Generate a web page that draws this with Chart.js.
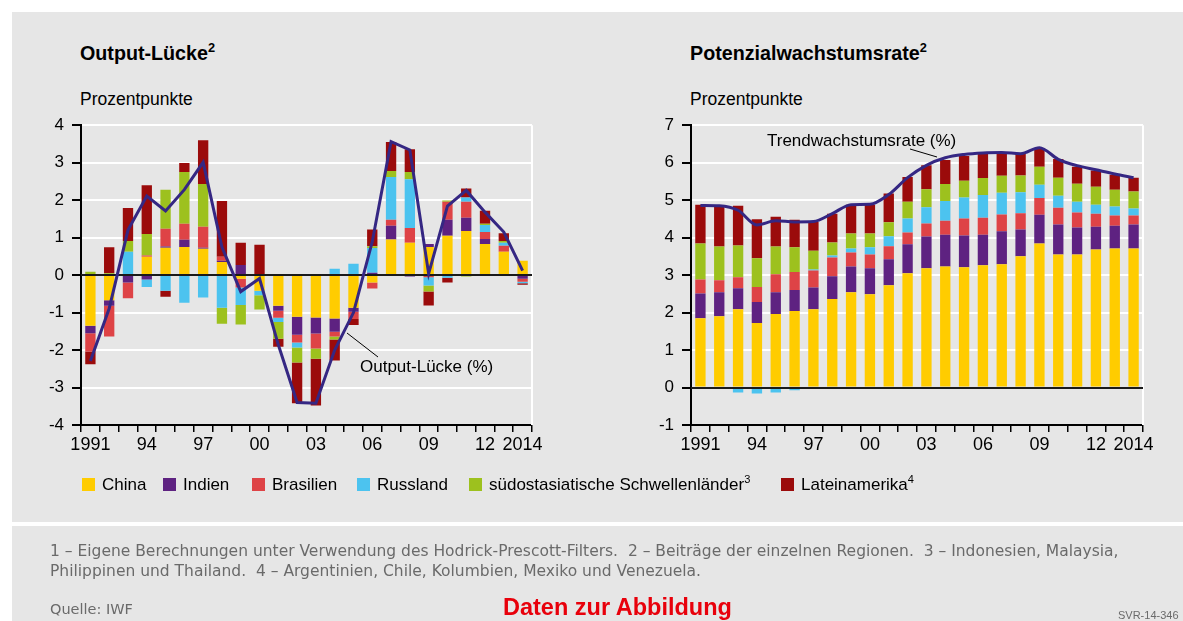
<!DOCTYPE html>
<html lang="de">
<head>
<meta charset="utf-8">
<title>Output-Lücke und Potenzialwachstumsrate</title>
<script src="https://cdn.jsdelivr.net/npm/chart.js@4.4.1/dist/chart.umd.min.js"></script>
<style>
  body { margin: 0; width: 1183px; height: 621px; background: #fff; position: relative; overflow: hidden;
         font-family: "Liberation Sans", Arial, sans-serif; color: #000; }
  .panel { position: absolute; background: #e6e6e6; }
  .abs { position: absolute; white-space: nowrap; }
  .title { font-size: 19.7px; font-weight: bold; }
  .unit { font-size: 17.5px; }
  sup { font-size: 0.65em; line-height: 0; }
  canvas { position: absolute; }
  #legend { position: absolute; left: 0; top: 475px; font-size: 17px; }
  #legend span.item { position: absolute; white-space: nowrap; }
  #legend i { position: absolute; left: -20px; top: 3px; width: 12.5px; height: 12.5px; }
  .note { font-family: "DejaVu Sans", sans-serif; font-size: 15.5px; color: #6a6a6a; }
</style>
</head>
<body>
<div class="panel" style="left:12px;top:12px;width:1171px;height:510px"></div>
<div class="panel" style="left:12px;top:526px;width:1171px;height:95px"></div>

<div class="abs title" style="left:80px;top:42px">Output-Lücke<sup>2</sup></div>
<div class="abs unit" style="left:80px;top:89px">Prozentpunkte</div>
<div class="abs title" style="left:690px;top:42px">Potenzialwachstumsrate<sup>2</sup></div>
<div class="abs unit" style="left:690px;top:89px">Prozentpunkte</div>

<canvas id="gapChart" width="516" height="354" style="left:30px;top:107px"></canvas>
<canvas id="potChart" width="517" height="354" style="left:640px;top:107px"></canvas>

<svg class="abs" style="left:0;top:0" width="1183" height="621">
  <line x1="347" y1="333" x2="378" y2="357" stroke="#000" stroke-width="1"/>
  <line x1="910" y1="149" x2="937" y2="157" stroke="#000" stroke-width="1"/>
</svg>
<div class="abs" style="left:360px;top:357px;font-size:17px">Output-Lücke (%)</div>
<div class="abs" style="left:767px;top:131px;font-size:17px">Trendwachstumsrate (%)</div>

<div id="legend"></div>

<div class="abs note" style="left:50px;top:542px">1 – Eigene Berechnungen unter Verwendung des Hodrick-Prescott-Filters.&nbsp; 2 – Beiträge der einzelnen Regionen.&nbsp; 3 – Indonesien, Malaysia,</div>
<div class="abs note" style="left:50px;top:562px">Philippinen und Thailand.&nbsp; 4 – Argentinien, Chile, Kolumbien, Mexiko und Venezuela.</div>
<div class="abs note" style="left:50px;top:601px;font-size:14.5px">Quelle: IWF</div>
<div class="abs" style="left:503px;top:594px;font-size:23.5px;font-weight:bold;color:#e8000b">Daten zur Abbildung</div>
<div class="abs" style="left:1118px;top:609px;font-size:11px;color:#6a6a6a">SVR-14-346</div>

<script>
// categories and axis labels
const years = ['1991','1992','1993','1994','1995','1996','1997','1998','1999','2000','2001','2002',
               '2003','2004','2005','2006','2007','2008','2009','2010','2011','2012','2013','2014'];
const tickYears = ['1991','1994','1997','2000','2003','2006','2009','2012','2014'];
const tickTexts = ['1991','94','97','00','03','06','09','12','2014'];

const regions = ['China', 'Indien', 'Brasilien', 'Russland', 'südostasiatische Schwellenländer', 'Lateinamerika'];
const regionNotes = ['', '', '', '', '3', '4'];
const colors = ['#ffcc00', '#5e2281', '#de4346', '#4cc3ef', '#9dc11e', '#9b0b0b'];
const lineColor = '#352783';

// Output-Lücke, Beiträge (Prozentpunkte)
const chinaGap     = [-1.35,-0.67,0,0.49,0.73,0.75,0.7,0.35,-0.1,-0.42,-0.82,-1.11,-1.13,-1.16,-0.87,-0.2,0.95,0.86,0.75,1.05,1.18,0.83,0.62,0.38];
const indienGap    = [-0.2,-0.15,-0.2,-0.12,0.03,0.19,0.03,0.03,0.27,0,-0.13,-0.48,-0.43,-0.35,-0.11,0.06,0.37,-0.04,0.08,0.43,0.35,0.13,0,-0.1];
const brasilienGap = [-0.49,-0.82,-0.42,0.03,0.48,0.43,0.56,0.11,-0.23,0,-0.19,-0.21,-0.4,-0.13,-0.19,-0.16,0.16,0.4,-0.06,0.48,0.43,0.19,0.16,-0.08];
const russlandGap  = [0,0,0.62,-0.2,-0.42,-0.74,-0.6,-0.87,-0.47,-0.12,-0.11,-0.13,0,0.17,0.3,0.66,1.14,1.3,-0.22,-0.07,0.11,0.19,0.08,-0.04];
const suedostGap   = [0.09,0.05,0.29,0.58,1.04,1.38,1.14,-0.43,-0.52,-0.38,-0.45,-0.4,-0.27,-0.08,0,0.05,0.16,0.19,-0.16,0.03,-0.04,0.03,0.05,0];
const lateinGap    = [-0.34,0.69,0.88,1.3,-0.16,0.24,1.17,1.49,0.59,0.81,-0.21,-1.09,-1.25,-0.56,-0.16,0.45,0.77,0.61,-0.37,-0.13,0.24,0.35,0.21,-0.04];
const gapTotal     = [-2.29,-0.89,1.2,2.11,1.71,2.28,3.01,0.75,-0.44,-0.09,-1.86,-3.4,-3.42,-2.0,-1.0,0.89,3.56,3.34,0.04,1.84,2.26,1.68,1.15,0.12];

// Potenzialwachstumsrate, Beiträge (Prozentpunkte)
const chinaPot     = [1.85,1.9,2.09,1.72,1.96,2.04,2.09,2.36,2.54,2.49,2.73,3.05,3.18,3.23,3.21,3.26,3.29,3.5,3.84,3.55,3.55,3.68,3.71,3.71];
const indienPot    = [0.66,0.64,0.56,0.56,0.58,0.56,0.58,0.61,0.69,0.69,0.69,0.77,0.85,0.85,0.85,0.82,0.88,0.72,0.77,0.8,0.72,0.61,0.61,0.64];
const brasilienPot = [0.37,0.32,0.29,0.4,0.48,0.48,0.45,0.5,0.37,0.37,0.35,0.32,0.35,0.37,0.45,0.45,0.45,0.43,0.45,0.45,0.4,0.35,0.27,0.24];
const russlandPot  = [0,0,-0.13,-0.16,-0.13,-0.07,0.03,0.05,0.11,0.19,0.27,0.37,0.43,0.53,0.56,0.61,0.58,0.56,0.35,0.32,0.29,0.24,0.24,0.19];
const suedostPot   = [0.96,0.9,0.85,0.77,0.74,0.66,0.5,0.35,0.4,0.37,0.37,0.45,0.48,0.45,0.45,0.45,0.45,0.45,0.48,0.48,0.48,0.48,0.45,0.45];
const lateinPot    = [1.04,1.06,1.06,1.04,0.8,0.74,0.77,0.77,0.77,0.77,0.77,0.66,0.64,0.64,0.66,0.64,0.61,0.58,0.5,0.5,0.45,0.43,0.4,0.37];
const trendRate    = [4.86,4.85,4.73,4.34,4.45,4.42,4.43,4.64,4.88,4.89,5.15,5.6,5.93,6.13,6.22,6.26,6.27,6.24,6.4,6.09,5.92,5.81,5.7,5.6];

Chart.defaults.font.family = '"Liberation Sans", Arial, sans-serif';
Chart.defaults.color = '#000';

// black zero line just before the line series, white right edge of the plot
const zeroLine = {
  id: 'zeroLine',
  beforeDatasetsDraw(chart) {
    const { ctx, chartArea } = chart;
    ctx.save();
    ctx.strokeStyle = '#fff';
    ctx.lineWidth = 2;
    ctx.beginPath();
    ctx.moveTo(chartArea.right, chartArea.top);
    ctx.lineTo(chartArea.right, chartArea.bottom);
    ctx.stroke();
    ctx.restore();
  },
  beforeDatasetDraw(chart, args) {
    if (args.meta.type !== 'line') return;
    const { ctx, chartArea, scales } = chart;
    const y0 = Math.round(scales.y.getPixelForValue(0));
    ctx.save();
    ctx.strokeStyle = '#1a1a1a';
    ctx.lineWidth = 2;
    ctx.beginPath();
    ctx.moveTo(chartArea.left, y0);
    ctx.lineTo(chartArea.right, y0);
    ctx.stroke();
    ctx.restore();
  }
};

function makeChart(id, series, total, yMin, yMax, smooth) {
  const datasets = series.map((vals, i) => ({
    type: 'bar',
    label: regions[i],
    data: vals,
    backgroundColor: colors[i],
    stack: 'regions',
    order: 1,
    categoryPercentage: 0.55,
    barPercentage: 1
  }));
  datasets.push({
    type: 'line',
    label: 'total',
    data: total,
    borderColor: lineColor,
    borderWidth: 3,
    pointRadius: 0,
    tension: 0,
    cubicInterpolationMode: smooth ? 'monotone' : 'default',
    stack: 'total',
    order: 0
  });

  new Chart(document.getElementById(id), {
    data: { labels: years, datasets: datasets },
    plugins: [zeroLine],
    options: {
      responsive: false,
      animation: false,
      devicePixelRatio: 1,
      layout: { padding: { top: 10, right: 14, left: 0, bottom: 0 } },
      plugins: { legend: { display: false }, tooltip: { enabled: false } },
      scales: {
        x: {
          stacked: true,
          offset: true,
          grid: { offset: true, drawOnChartArea: false, tickLength: 7, tickColor: '#000', lineWidth: 1.5 },
          border: { color: '#000', width: 2 },
          ticks: {
            autoSkip: false, maxRotation: 0, padding: 2,
            font: { size: 18 },
            callback: function (v, i) {
              const k = tickYears.indexOf(years[i]);
              return k >= 0 ? tickTexts[k] : '';
            }
          },
          afterFit(scale) { scale.height = 36; }
        },
        y: {
          stacked: true,
          min: yMin, max: yMax,
          grid: {
            color: ctx => (ctx.tick && ctx.tick.value === 0) ? 'rgba(0,0,0,0)' : '#ffffff',
            lineWidth: 2, tickLength: 9, tickColor: '#000'
          },
          border: { color: '#000', width: 2 },
          ticks: { stepSize: 1, padding: 8, font: { size: 17 } },
          afterFit(scale) { scale.width = 51; }
        }
      }
    }
  });
}

makeChart('gapChart', [chinaGap, indienGap, brasilienGap, russlandGap, suedostGap, lateinGap], gapTotal, -4, 4, false);
makeChart('potChart', [chinaPot, indienPot, brasilienPot, russlandPot, suedostPot, lateinPot], trendRate, -1, 7, true);

// legend (x = start of each label text)
const legendX = [102, 183, 272, 377, 489, 801];
const legend = document.getElementById('legend');
regions.forEach((name, i) => {
  const item = document.createElement('span');
  item.className = 'item';
  item.style.left = legendX[i] + 'px';
  item.innerHTML = '<i style="background:' + colors[i] + '"></i>' + name +
    (regionNotes[i] ? '<sup>' + regionNotes[i] + '</sup>' : '');
  legend.appendChild(item);
});
</script>
</body>
</html>
